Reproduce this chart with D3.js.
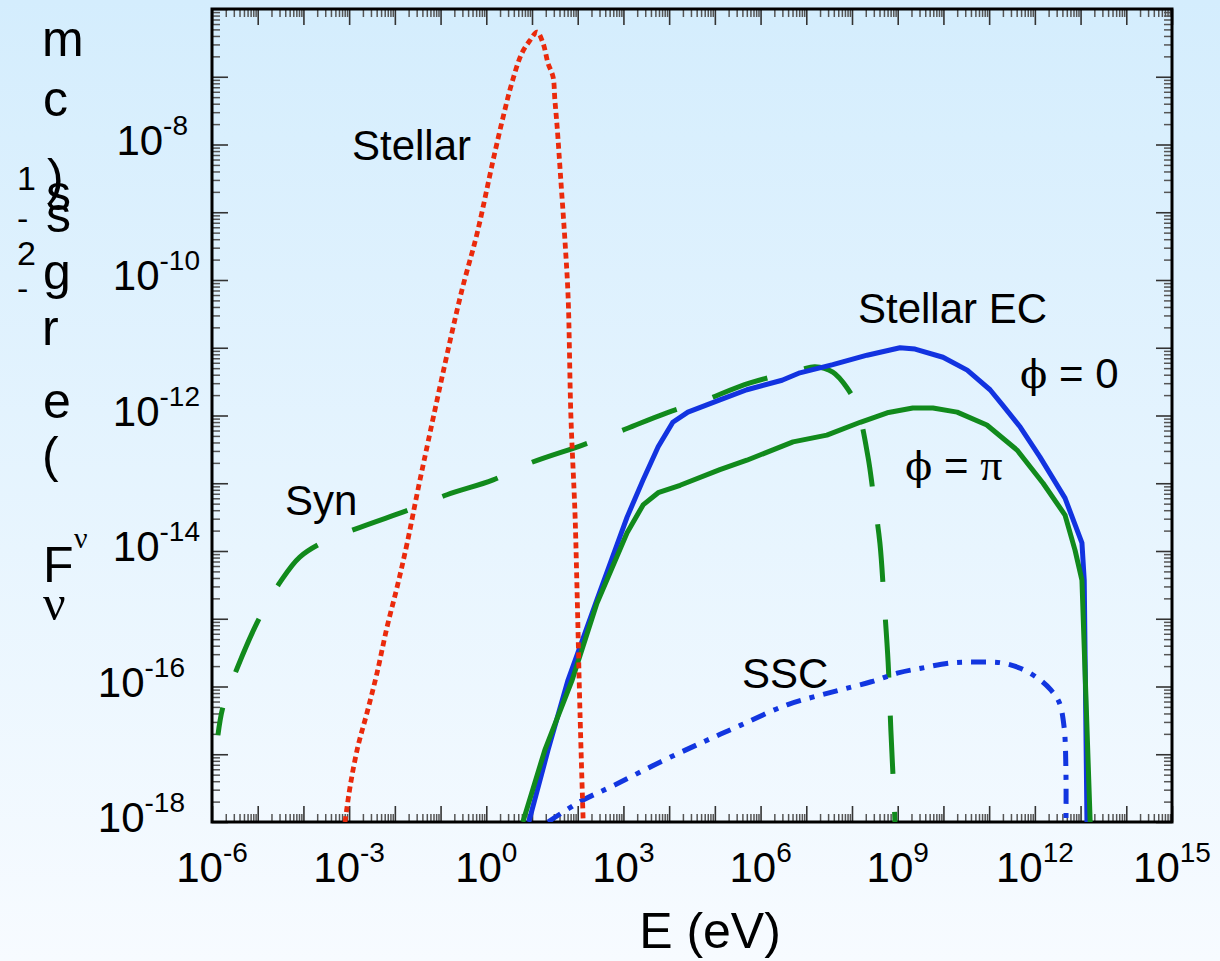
<!DOCTYPE html>
<html>
<head>
<meta charset="utf-8">
<script src="https://cdn.jsdelivr.net/npm/d3@7"></script>
<style>
  body { margin: 0; }
  text { font-family: "Liberation Sans", Arial, sans-serif; fill: #000; }
</style>
</head>
<body>
<div id="chart"></div>
<script>
// values, as log10(E / eV) and log10(flux)
var stellarE = [-3.09, -2.98, -2.81, -2.61, -2.39, -2.17, -1.95, -1.73, -1.45, -0.57, -0.20, 0.15, 0.37, 0.56, 0.78, 0.96, 1.11, 1.24, 1.35, 1.46, 1.50, 1.55, 1.63, 1.72, 1.79, 1.85, 1.94, 1.98, 2.05, 2.12];
var stellarF = [-18.0, -17.48, -16.89, -16.39, -15.80, -15.12, -14.53, -13.88, -12.95, -10.25, -9.31, -8.23, -7.59, -7.09, -6.65, -6.46, -6.34, -6.50, -6.80, -7.00, -7.34, -7.74, -8.52, -9.41, -10.25, -11.99, -13.44, -14.43, -16.39, -18.0];

var synE = [-5.87, -5.76, -5.45, -4.95, -4.51, -4.08, -3.48, -2.76, -1.60, -0.86, 0.15, 0.96, 2.09, 2.82, 3.95, 4.68, 5.77, 6.86, 7.19, 7.58, 7.89, 8.11, 8.35, 8.46, 8.61, 8.70, 8.79, 8.85, 8.92, 8.94];
var synF = [-16.72, -16.30, -15.73, -14.97, -14.46, -14.09, -13.84, -13.65, -13.37, -13.17, -12.95, -12.70, -12.44, -12.26, -11.96, -11.80, -11.52, -11.33, -11.28, -11.36, -11.59, -11.87, -12.61, -13.13, -13.88, -14.72, -15.64, -16.64, -17.65, -18.0];

var ec0E = [0.93, 1.35, 1.79, 2.42, 3.08, 3.43, 3.76, 4.08, 4.41, 5.11, 5.70, 6.47, 6.86, 7.58, 8.33, 9.05, 9.38, 9.99, 10.52, 11.02, 11.30, 11.68, 12.11, 12.66, 13.03, 13.08, 13.14];
var ec0F = [-18.0, -16.94, -15.90, -14.72, -13.50, -12.95, -12.46, -12.10, -11.95, -11.77, -11.62, -11.48, -11.37, -11.25, -11.11, -11.00, -11.02, -11.14, -11.33, -11.62, -11.85, -12.17, -12.61, -13.22, -13.88, -14.43, -18.0];

var ecPiE = [0.80, 1.28, 1.88, 2.42, 3.08, 3.43, 3.76, 4.24, 5.11, 5.70, 6.71, 7.45, 8.18, 8.77, 9.33, 9.77, 10.30, 10.95, 11.61, 12.18, 12.66, 12.88, 13.03, 13.21];
var ecPiF = [-18.0, -16.94, -15.90, -14.77, -13.73, -13.32, -13.14, -13.03, -12.80, -12.66, -12.39, -12.29, -12.10, -11.96, -11.89, -11.89, -11.95, -12.14, -12.51, -13.00, -13.47, -13.99, -14.43, -18.0];

var sscE = [1.35, 2.05, 2.82, 3.82, 4.74, 5.57, 6.58, 7.58, 8.42, 9.01, 9.51, 10.19, 10.76, 11.26, 11.68, 12.11, 12.35, 12.53, 12.64, 12.68, 12.68];
var sscF = [-18.0, -17.70, -17.45, -17.11, -16.82, -16.57, -16.27, -16.08, -15.93, -15.80, -15.73, -15.65, -15.64, -15.65, -15.73, -15.90, -16.05, -16.23, -16.60, -17.28, -18.0];

var xTickPowers = [-6, -3, 0, 3, 6, 9, 12, 15];
var yTickPowers = [-8, -10, -12, -14, -16, -18];

var width = 1220, height = 961,
    pLeft = 212, pRight = 1172, pTop = 9, pBottom = 822;

var svg = d3.select("#chart").append("svg")
    .attr("width", width)
    .attr("height", height);

// page background: pale blue fading to white
var defs = svg.append("defs");
var grad = defs.append("linearGradient")
    .attr("id", "bg").attr("x1", 0).attr("y1", 0).attr("x2", 0).attr("y2", 1);
grad.append("stop").attr("offset", 0).attr("stop-color", "#d4edfd");
grad.append("stop").attr("offset", 1).attr("stop-color", "#f7fbff");
svg.append("rect").attr("width", width).attr("height", height).attr("fill", "url(#bg)");

defs.append("clipPath").attr("id", "plot")
  .append("rect")
    .attr("x", pLeft).attr("y", pTop)
    .attr("width", pRight - pLeft).attr("height", pBottom - pTop);

var x = d3.scaleLog().domain([1e-6, 1e15]).range([pLeft, pRight]);
var y = d3.scaleLog().domain([1e-18, 1e-6]).range([pBottom, pTop]);

// ticks on all four sides, pointing inwards
var xMajor = d3.range(-6, 16).map(function(p) { return Math.pow(10, p); });
var yMajor = d3.range(-18, -5).map(function(p) { return Math.pow(10, p); });
function minors(p0, p1) {
  var out = [];
  for (var p = p0; p < p1; p++)
    for (var k = 2; k < 10; k++) out.push(k * Math.pow(10, p));
  return out;
}
var xMinor = minors(-6, 15), yMinor = minors(-18, -6);

function drawTicks(axis, tr, major, minor) {
  var g = svg.append("g").attr("transform", tr);
  g.call(axis.tickValues(minor).tickSize(-8).tickFormat(""));
  g.selectAll(".tick line").attr("stroke", "#555").attr("stroke-width", 1.5);
  g.select(".domain").remove();
  var g2 = svg.append("g").attr("transform", tr);
  g2.call(axis.tickValues(major).tickSize(-16).tickFormat(""));
  g2.selectAll(".tick line").attr("stroke", "#333").attr("stroke-width", 1.6);
  g2.select(".domain").remove();
}
drawTicks(d3.axisBottom(x), "translate(0," + pBottom + ")", xMajor, xMinor);
drawTicks(d3.axisTop(x), "translate(0," + pTop + ")", xMajor, xMinor);
drawTicks(d3.axisLeft(y), "translate(" + pLeft + ",0)", yMajor, yMinor);
drawTicks(d3.axisRight(y), "translate(" + pRight + ",0)", yMajor, yMinor);

svg.append("rect")
    .attr("x", pLeft).attr("y", pTop)
    .attr("width", pRight - pLeft).attr("height", pBottom - pTop)
    .attr("fill", "none").attr("stroke", "#000").attr("stroke-width", 3);

// curves
function series(es, fs) {
  return es.map(function(e, i) { return { e: Math.pow(10, e), f: Math.pow(10, fs[i]) }; });
}
var line = d3.line()
    .x(function(d) { return x(d.e); })
    .y(function(d) { return y(d.f); });
var smooth = d3.line()
    .curve(d3.curveCatmullRom.alpha(0.5))
    .x(function(d) { return x(d.e); })
    .y(function(d) { return y(d.f); });

var curves = svg.append("g").attr("clip-path", "url(#plot)");

curves.append("path").datum(series(synE, synF))
    .attr("fill", "none").attr("stroke", "#118a1c").attr("stroke-width", 5)
    .attr("stroke-dasharray", "58,38").attr("stroke-dashoffset", 30)
    .attr("d", smooth);
curves.append("path").datum(series(sscE, sscF))
    .attr("fill", "none").attr("stroke", "#1236e0").attr("stroke-width", 5)
    .attr("stroke-dasharray", "15,9,5,9").attr("d", smooth);
curves.append("path").datum(series(ec0E, ec0F))
    .attr("fill", "none").attr("stroke", "#1233e0").attr("stroke-width", 5)
    .attr("stroke-linejoin", "round").attr("d", line);
curves.append("path").datum(series(ecPiE, ecPiF))
    .attr("fill", "none").attr("stroke", "#118a1c").attr("stroke-width", 5)
    .attr("stroke-linejoin", "round").attr("d", line);
curves.append("path").datum(series(stellarE, stellarF))
    .attr("fill", "none").attr("stroke", "#ea2a0c").attr("stroke-width", 4.8)
    .attr("stroke-dasharray", "6,4").attr("d", smooth);

// tick labels
var xl = svg.append("g").selectAll("text").data(xTickPowers).enter().append("text")
    .attr("x", function(p) { return x(Math.pow(10, p)); })
    .attr("y", 882)
    .attr("text-anchor", "middle");
xl.append("tspan").attr("font-size", 42).text("10");
xl.append("tspan").attr("font-size", 28).attr("dy", -20).text(function(p) { return p; });

var yRight = { "-8": 188, "-10": 200, "-12": 200, "-14": 200, "-16": 185, "-18": 185 };
var yl = svg.append("g").selectAll("text").data(yTickPowers).enter().append("text")
    .attr("x", function(p) { return yRight[p]; })
    .attr("y", function(p) { return y(Math.pow(10, p)) + 10; })
    .attr("text-anchor", "end");
yl.append("tspan").attr("font-size", 42).text("10");
yl.append("tspan").attr("font-size", 28).attr("dy", -20).text(function(p) { return p; });

svg.append("text")
    .attr("x", 710).attr("y", 948)
    .attr("text-anchor", "middle").attr("font-size", 50)
    .text("E (eV)");

// y title, drawn the way the original shows it: one glyph stacked over the next
var yTitleGlyphs = [
  { t: "m", x: 42, y: 56, s: 50 },
  { t: "c", x: 43, y: 116, s: 50 },
  { t: ")", x: 47, y: 194, s: 50 },
  { t: "s", x: 46, y: 210, s: 50 },
  { t: "s", x: 46, y: 232, s: 50 },
  { t: "g", x: 43, y: 289, s: 50 },
  { t: "r", x: 42, y: 345, s: 50 },
  { t: "e", x: 43, y: 418, s: 50 },
  { t: "(", x: 42, y: 472, s: 50 },
  { t: "F", x: 43, y: 582, s: 50 },
  { t: "ν", x: 74, y: 548, s: 30, serif: true },
  { t: "ν", x: 43, y: 620, s: 50, serif: true },
  { t: "1", x: 17, y: 190, s: 34 },
  { t: "-", x: 17, y: 230, s: 34 },
  { t: "2", x: 17, y: 265, s: 34 },
  { t: "-", x: 17, y: 300, s: 34 }
];
svg.append("g").selectAll("text").data(yTitleGlyphs).enter().append("text")
    .attr("x", function(d) { return d.x; })
    .attr("y", function(d) { return d.y; })
    .attr("font-size", function(d) { return d.s; })
    .style("font-family", function(d) { return d.serif ? "'Liberation Serif', serif" : null; })
    .text(function(d) { return d.t; });

// curve labels
var notes = [
  { t: "Stellar", x: 352, y: 160 },
  { t: "Stellar EC", x: 858, y: 323 },
  { t: "Syn", x: 285, y: 515 },
  { t: "SSC", x: 742, y: 688 }
];
svg.append("g").selectAll("text").data(notes).enter().append("text")
    .attr("x", function(d) { return d.x; })
    .attr("y", function(d) { return d.y; })
    .attr("font-size", 42)
    .text(function(d) { return d.t; });

var phi0 = svg.append("text").attr("x", 1020).attr("y", 388).attr("font-size", 42);
phi0.append("tspan").style("font-family", "'DejaVu Serif', serif").attr("font-size", 40).text("ϕ");
phi0.append("tspan").text(" = 0");
var phiPi = svg.append("text").attr("x", 905).attr("y", 480).attr("font-size", 42);
phiPi.append("tspan").style("font-family", "'DejaVu Serif', serif").attr("font-size", 40).text("ϕ");
phiPi.append("tspan").text(" = ");
phiPi.append("tspan").style("font-family", "'Liberation Serif', serif").attr("font-size", 44).text("π");
</script>
</body>
</html>
